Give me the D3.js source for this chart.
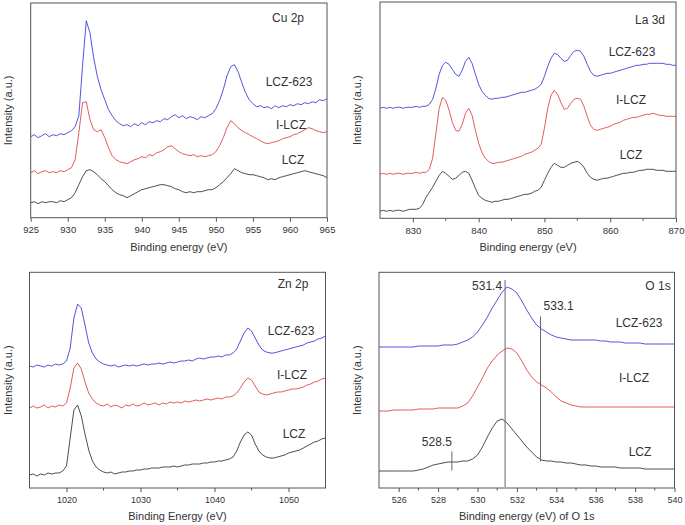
<!DOCTYPE html>
<html><head><meta charset="utf-8">
<script src="https://cdn.jsdelivr.net/npm/d3@7/dist/d3.min.js"></script>
<style>
html,body{margin:0;padding:0;background:#fff;}
svg{display:block;font-family:Arial,"Liberation Sans",sans-serif;}
</style>
</head><body>
<svg id="chart" width="685" height="525"></svg>
<script>
// ---------- DATA ----------
const seriesNames = ["LCZ-623", "I-LCZ", "LCZ"];
const seriesColors = ["#3f3fdc", "#e04848", "#3a3a3a"];

// Cu 2p : energy grid 925..965 step 0.5
const cuRange = [925, 965, 0.5];
const cuLCZ623 = [81,83,80,82,84,81,83,82,84,83,85,87,91,102,152,197,185,160,141,128,118,108,102,97,94,92,93,91,94,92,95,93,96,95,97,96,99,98,101,103,100,102,99,101,100,98,101,100,102,104,109,117,128,142,151,153,146,135,125,118,114,111,112,110,111,109,112,110,112,111,113,112,114,113,115,114,116,115,118,117,119];
const cuILCZ = [45,47,44,46,47,45,46,45,47,46,48,50,58,85,115,116,98,88,86,88,80,70,62,58,56,55,54,56,58,59,61,60,63,62,65,66,68,71,72,69,66,64,63,62,63,61,62,61,62,63,66,72,80,90,97,94,90,87,85,83,81,79,77,75,74,75,76,77,79,80,81,83,84,86,88,90,89,87,86,85,86];
const cuLCZ = [15,16,14,16,15,16,16,15,17,16,18,20,25,33,41,47,48,46,43,39,36,32,28,25,23,22,20,22,24,26,28,29,30,31,32,33,33,32,31,29,28,26,25,26,25,26,26,27,28,28,30,33,36,40,44,49,47,45,44,43,43,42,41,40,38,39,38,40,41,42,43,44,45,46,47,46,45,44,43,42,40];

// La 3d : energy grid 825..870 step 0.5
const laRange = [825, 870, 0.5];
const laLCZ623 = [110,111,110,111,110,111,111,110,111,111,111,112,111,112,112,114,119,130,144,153,156,154,149,144,142,148,157,161,155,144,134,127,123,120,119,120,120,121,121,122,123,124,125,126,126,127,128,129,131,134,142,152,160,165,164,160,157,158,163,167,168,167,162,154,147,143,142,143,144,145,145,146,147,148,149,150,151,152,153,153,154,154,155,155,155,155,155,154,154,153,153];
const laILCZ = [44,45,44,45,44,45,45,44,45,45,45,46,45,46,46,49,60,85,110,121,118,108,96,88,87,94,105,110,103,88,75,66,60,57,55,55,56,56,57,58,59,60,61,62,64,65,66,68,70,74,90,110,123,128,124,116,109,110,115,119,120,119,112,102,93,89,88,89,90,91,92,94,95,96,98,99,100,101,101,102,103,104,104,105,104,103,103,102,102,102,102];
const laLCZ = [7,8,7,8,7,8,8,7,8,9,9,9,10,14,21,26,31,37,43,47,45,42,39,40,43,46,47,45,38,30,23,20,18,17,16,17,17,18,19,19,20,21,22,23,24,24,25,27,28,31,38,45,51,55,53,51,51,53,55,56,57,55,51,45,41,39,38,39,40,40,41,42,43,44,45,45,46,46,47,48,48,49,49,49,48,48,48,47,47,47,47];

// Zn 2p : energy grid 1015..1055 step 0.5
const znRange = [1015, 1055, 0.5];
const znLCZ623 = [122,121,123,122,121,123,122,124,123,124,127,140,170,184,180,163,145,135,129,126,124,123,122,123,121,122,123,122,123,122,123,124,123,124,124,125,124,125,126,125,126,127,127,128,127,129,130,129,130,131,131,132,131,133,133,135,139,147,155,160,157,150,143,138,136,135,135,136,137,138,139,140,141,142,143,145,146,147,149,150,152];
const znILCZ = [80,82,80,81,83,80,82,81,83,82,85,100,120,125,119,106,95,89,85,83,82,84,81,83,82,80,83,82,84,82,83,85,83,84,85,83,85,84,86,85,86,85,87,86,87,88,87,88,89,88,89,90,89,91,91,92,95,100,106,110,108,102,96,94,93,94,95,96,96,97,98,99,99,100,101,103,104,106,107,109,110];
const znLCZ = [13,14,12,14,13,15,14,15,15,17,22,50,78,83,72,54,38,27,21,18,16,15,16,14,15,16,16,17,17,18,18,19,19,20,20,20,21,21,21,22,21,22,23,23,24,24,24,25,25,26,26,27,27,28,29,31,37,46,53,56,53,44,37,33,31,30,30,31,32,33,35,36,37,38,40,42,44,46,47,49,50];

// O 1s : energy grid 525..540 step 0.25
const oRange = [525, 540, 0.25];
const oLCZ623 = [141,141,141,141,141,141,141,141,142,142,142,142,142,143,143,143,144,146,148,151,156,163,171,180,188,196,201,199,195,187,178,170,163,159,156,153,151,150,149,148,148,148,148,148,148,147,147,146,146,146,145,145,145,145,144,144,144,144,144,144,144];
const oILCZ = [77,77,77,78,78,78,78,78,79,79,79,79,80,80,80,80,80,82,85,92,101,110,120,127,133,137,140,139,135,127,118,111,106,103,100,96,91,87,85,83,82,81,81,81,81,81,81,81,81,81,81,81,81,81,81,81,81,81,81,81,81];
const oLCZ = [17,17,17,17,17,17,17,17,18,19,21,23,24,25,26,26,26,27,27,29,33,41,51,60,67,69,65,59,53,47,41,36,31,28,27,27,26,26,25,25,24,23,23,22,22,21,21,21,21,20,20,20,20,20,19,19,19,19,19,19,19];

// O 1s peak markers
const oMarkerLabels = ["531.4", "533.1", "528.5"];
const oMarkerPos = [531.4, 533.2, 528.7];

// tick labels
const cuTicks = [925,930,935,940,945,950,955,960,965];
const laTicks = [830,840,850,860,870];
const znTicks = [1020,1030,1040,1050];
const oTicks = [526,528,530,532,534,536,538,540];

// ---------- LAYOUT ----------
const svg = d3.select("#chart");
const textCol = "#333";
const frameCol = "#555";

const panels = [
  {title:"Cu 2p", xt:"Binding energy (eV)", left:30.7, right:327, top:3, bottom:217.7, dom:[925,965],
   range:cuRange, series:[cuLCZ623,cuILCZ,cuLCZ], ticks:cuTicks, minor:[], tickFs:9.5,
   titlePos:[288,22], labelPos:[[289,86],[291,129],[293,164]], xtY:251, ytX:8},
  {title:"La 3d", xt:"Binding energy (eV)", left:380, right:676, top:2, bottom:218.3, dom:[825,870],
   range:laRange, series:[laLCZ623,laILCZ,laLCZ], ticks:laTicks, minor:[835,845,855,865], tickFs:9.5,
   titlePos:[650,24], labelPos:[[632,56],[631,104],[631,159]], xtY:251, ytX:357},
  {title:"Zn 2p", xt:"Binding Energy (eV)", left:29.5, right:325.5, top:272.3, bottom:488, dom:[1015,1055],
   range:znRange, series:[znLCZ623,znILCZ,znLCZ], ticks:znTicks, minor:[1025,1035,1045], tickFs:9,
   titlePos:[293,288], labelPos:[[291,335],[292,379],[294,438]], xtY:520, ytX:8},
  {title:"O 1s", xt:"Binding energy (eV) of O 1s", left:379, right:674.5, top:272.3, bottom:488, dom:[525,540],
   range:oRange, series:[oLCZ623,oILCZ,oLCZ], ticks:oTicks, minor:[527,529,531,533,535,537,539], tickFs:9,
   titlePos:[658,290], labelPos:[[639,327],[634,382],[640,456]], xtY:520, ytX:357}
];

panels.forEach((p, pi) => {
  const H = p.bottom - p.top;
  const x = d3.scaleLinear().domain(p.dom).range([p.left, p.right]);
  const y = d3.scaleLinear().domain([0, H]).range([p.bottom, p.top]);
  const g = svg.append("g");
  const energies = d3.range(p.range[0], p.range[1] + p.range[2] / 2, p.range[2]);

  // spectra
  p.series.forEach((vals, si) => {
    const pts = vals.map((v, i) => [energies[i], v]);
    g.append("path")
      .attr("d", d3.line().x(d => x(d[0])).y(d => y(d[1]))(pts))
      .attr("fill", "none")
      .attr("stroke", seriesColors[si])
      .attr("stroke-width", 0.9)
      .attr("stroke-linejoin", "round");
  });

  // O 1s markers
  if (pi === 3) {
    const mk = [
      {y1: 280, y2: 487, tx: -3, ty: 290, anchor: "end"},
      {y1: 316.5, y2: 461.5, tx: 3, ty: 310, anchor: "start"},
      {y1: 451.5, y2: 470.5, tx: -15, ty: 446, anchor: "middle"}
    ];
    oMarkerPos.forEach((e, i) => {
      g.append("line").attr("x1", x(e)).attr("x2", x(e))
        .attr("y1", mk[i].y1).attr("y2", mk[i].y2)
        .attr("stroke", "#666").attr("stroke-width", 1);
      g.append("text").attr("x", x(e) + mk[i].tx).attr("y", mk[i].ty)
        .attr("text-anchor", mk[i].anchor).attr("font-size", 12)
        .attr("fill", textCol).text(oMarkerLabels[i]);
    });
  }

  // frame
  g.append("rect").attr("x", p.left).attr("y", p.top)
    .attr("width", p.right - p.left).attr("height", H)
    .attr("fill", "none").attr("stroke", frameCol).attr("stroke-width", 1);

  // x axis
  const ax = g.append("g").attr("transform", `translate(0,${p.bottom})`)
    .call(d3.axisBottom(x).tickValues(p.ticks).tickSize(4).tickSizeOuter(0).tickFormat(d3.format("d")));
  ax.select(".domain").remove();
  ax.selectAll(".tick line").attr("stroke", frameCol);
  ax.selectAll(".tick text").attr("font-size", p.tickFs).attr("fill", textCol)
    .attr("font-family", "Arial, 'Liberation Sans', sans-serif").attr("dy", "0.9em");
  p.minor.forEach(m => {
    g.append("line").attr("x1", x(m)).attr("x2", x(m))
      .attr("y1", p.bottom).attr("y2", p.bottom + 2.5)
      .attr("stroke", frameCol).attr("stroke-width", 1);
  });

  // axis titles
  g.append("text").attr("x", (p.left + p.right) / 2).attr("y", p.xtY)
    .attr("text-anchor", "middle").attr("font-size", 11).attr("fill", textCol).text(p.xt);
  g.append("text").attr("transform", `translate(${p.ytX + 4},${(p.top + p.bottom) / 2}) rotate(-90)`)
    .attr("text-anchor", "middle").attr("font-size", 11).attr("fill", textCol).text("Intensity (a.u.)");

  // panel title & series labels
  g.append("text").attr("x", p.titlePos[0]).attr("y", p.titlePos[1])
    .attr("text-anchor", "middle").attr("font-size", 12).attr("fill", textCol).text(p.title);
  seriesNames.forEach((n, si) => {
    g.append("text").attr("x", p.labelPos[si][0]).attr("y", p.labelPos[si][1])
      .attr("text-anchor", "middle").attr("font-size", 12).attr("fill", textCol).text(n);
  });
});
</script>
</body></html>
